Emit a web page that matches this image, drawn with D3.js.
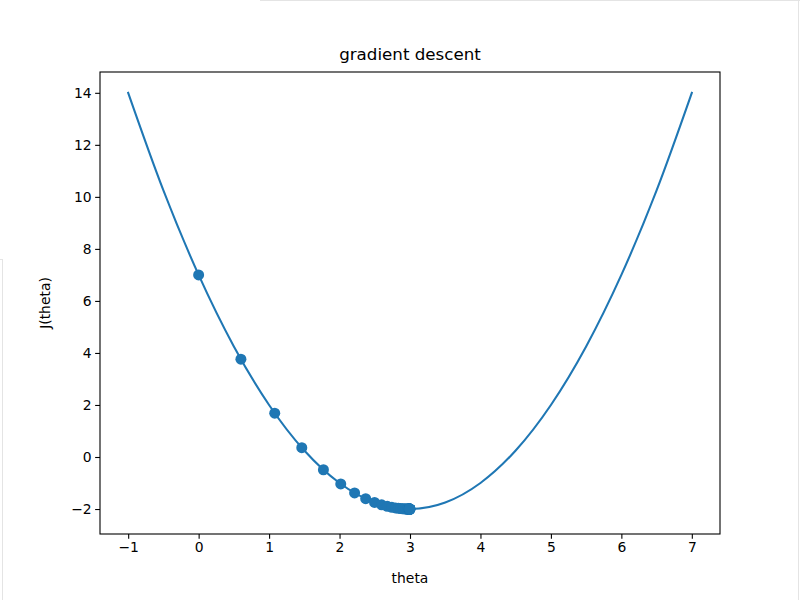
<!DOCTYPE html>
<html><head><meta charset="utf-8">
<script src="https://cdn.jsdelivr.net/npm/d3@7/dist/d3.min.js"></script>
<style>
html,body{margin:0;padding:0;background:#fff;}
svg{display:block;font-family:"DejaVu Sans",sans-serif;}
</style></head>
<body>
<script>
const curveX = [-1,-0.5,0,0.5,1,1.5,2,2.5,3,3.5,4,4.5,5,5.5,6,6.5,7];
const curveY = [14,10.25,7,4.25,2,0.25,-1,-1.75,-2,-1.75,-1,0.25,2,4.25,7,10.25,14];
// Gradient descent history points
const histTheta = [0,0.6,1.08,1.464,1.7712,2.017,2.2136,2.3709,2.4967,2.5973,2.6779,2.7423,2.7938,2.8351,2.8681,2.8945,2.9156,2.9325,2.946,2.9568,2.9654,2.9723,2.9779,2.9823,2.9858,2.9887,2.9909,2.9927,2.9942,2.9954,2.9963,2.997,2.9976,2.9981,2.9985,2.9988,2.999];
const histJ = [7,3.76,1.6864,0.3593,-0.49,-1.0336,-1.3815,-1.6042,-1.7467,-1.8379,-1.8962,-1.9336,-1.9575,-1.9728,-1.9826,-1.9889,-1.9929,-1.9954,-1.9971,-1.9981,-1.9988,-1.9992,-1.9995,-1.9997,-1.9998,-1.9999,-1.9999,-1.99995,-1.99997,-1.99998,-1.99999,-1.99999,-2,-2,-2,-2,-2];
const xTicks = [-1,0,1,2,3,4,5,6,7];
const yTicks = [-2,0,2,4,6,8,10,12,14];
const titleText = "gradient descent";
const xLabel = "theta";
const yLabel = "J(theta)";

const W=800,H=600, L=100,R=720,T=72,B=534;
const color="#1f77b4";
const svg=d3.select("body").append("svg").attr("width",W).attr("height",H);
svg.append("rect").attr("width",W).attr("height",H).attr("fill","#fff");
// faint window-edge artifacts seen in the reference screenshot
const edge="#e4e4e4";
svg.append("line").attr("x1",260).attr("x2",800).attr("y1",0.5).attr("y2",0.5).attr("stroke",edge);
svg.append("line").attr("x1",798.5).attr("x2",798.5).attr("y1",0).attr("y2",600).attr("stroke",edge);
svg.append("line").attr("x1",0).attr("x2",3).attr("y1",259.5).attr("y2",259.5).attr("stroke",edge);
svg.append("line").attr("x1",2.5).attr("x2",2.5).attr("y1",259).attr("y2",600).attr("stroke",edge);

const x=d3.scaleLinear().domain([-1.4,7.4]).range([L,R]);
const y=d3.scaleLinear().domain([-2.96,14.8]).range([B,T]);

const line=d3.line().x((d,i)=>x(curveX[i])).y((d,i)=>y(curveY[i])).curve(d3.curveCardinal.tension(0));
svg.append("path").datum(curveX).attr("d",line).attr("fill","none").attr("stroke",color).attr("stroke-width",2.08).attr("stroke-linecap","square");

svg.append("g").selectAll("circle").data(histTheta).join("circle")
  .attr("cx",(d,i)=>x(histTheta[i])).attr("cy",(d,i)=>y(histJ[i])).attr("r",5.5).attr("fill",color);

const xa=svg.append("g").attr("transform",`translate(0,${B})`)
  .call(d3.axisBottom(x).tickValues(xTicks).tickSize(4.86).tickPadding(3.5).tickFormat(d=>d<0?"\u2212"+Math.abs(d):d));
const ya=svg.append("g").attr("transform",`translate(${L},0)`)
  .call(d3.axisLeft(y).tickValues(yTicks).tickSize(4.86).tickPadding(3.5).tickFormat(d=>d<0?"\u2212"+Math.abs(d):d));
[xa,ya].forEach(a=>{a.select(".domain").remove();a.selectAll("line").attr("stroke","#000").attr("stroke-width",1.1);
  a.selectAll("text").attr("font-size","13.9px").attr("fill","#000").attr("font-family","DejaVu Sans");});

svg.append("rect").attr("x",L).attr("y",T).attr("width",R-L).attr("height",B-T)
  .attr("fill","none").attr("stroke","#000").attr("stroke-width",1.1);

svg.append("text").attr("x",(L+R)/2).attr("y",60).attr("text-anchor","middle").attr("font-size","16.7px").text(titleText);
svg.append("text").attr("x",(L+R)/2).attr("y",583).attr("text-anchor","middle").attr("font-size","13.9px").text(xLabel);
svg.append("text").attr("transform",`translate(50,${(T+B)/2}) rotate(-90)`).attr("text-anchor","middle").attr("font-size","13.9px").text(yLabel);
</script>
</body></html>
